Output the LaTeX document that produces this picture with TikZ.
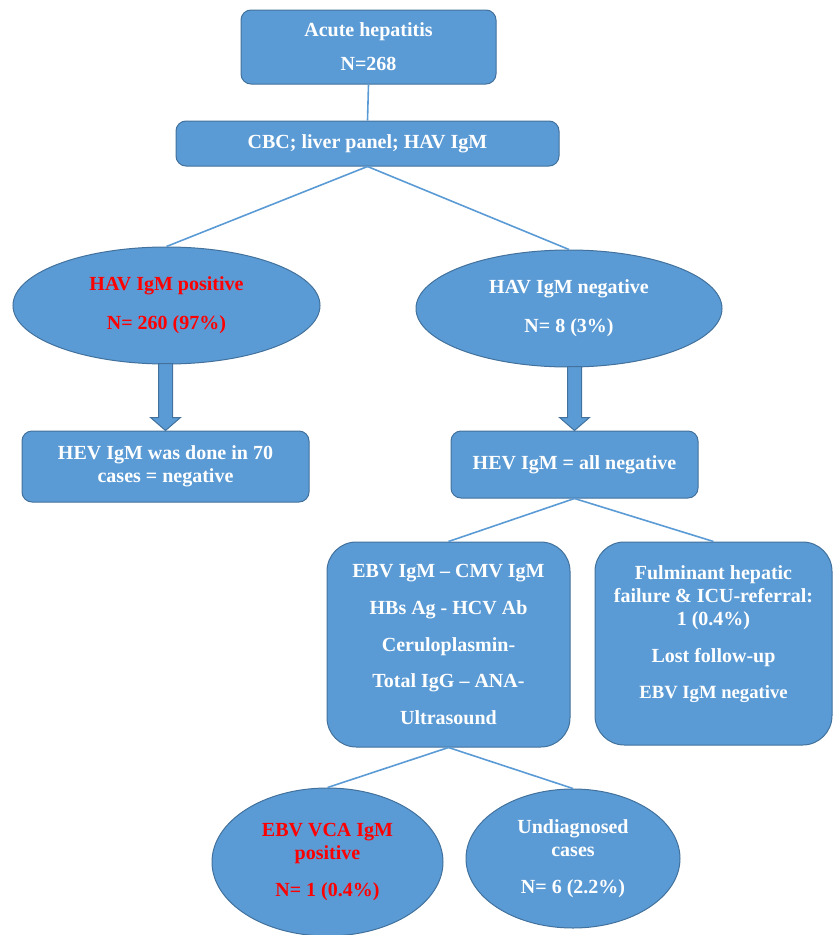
\documentclass[tikz,border=0pt]{standalone}
\usepackage{fontspec}
\setmainfont{Liberation Serif}
\usetikzlibrary{shapes.geometric, calc}

\definecolor{boxblue}{HTML}{5B9BD5}
\definecolor{boxedge}{HTML}{41719C}
\definecolor{posred}{HTML}{FF0000}

\tikzset{
    flowbox/.style={rectangle, rounded corners=7.5pt, fill=boxblue, draw=boxedge, line width=0.75pt,
        text=white, font=\fontsize{15}{17.25}\selectfont\bfseries, align=center, inner sep=2pt},
    flowoval/.style={ellipse, fill=boxblue, draw=boxedge, line width=0.75pt,
        text=white, font=\fontsize{15}{17.25}\selectfont\bfseries, align=center, inner sep=0pt},
    link/.style={draw=boxblue, line width=1.2pt},
    blockarrow/.style={fill=boxblue, draw=boxedge, line width=0.75pt, line join=miter}
}

\begin{document}
\begin{tikzpicture}[x=0.75pt, y=-0.75pt]
        \useasboundingbox (0, 0) rectangle (833, 935);

        % top of the tree
        \node[flowbox, minimum width=191.25pt, minimum height=55.5pt] (acute) at (368.5, 47) {Acute hepatitis\\[8.25pt]N=268};
        \node[flowbox, minimum width=287.25pt, minimum height=33.75pt] (cbc) at (367.5, 143.5) {CBC; liver panel; HAV IgM};

        \node[flowoval, text=posred, minimum width=230.25pt, minimum height=87.75pt] (hpos) at (166.5, 305.5) {HAV IgM positive\\[11.75pt]N= 260 (97\%)};
        \node[flowoval, minimum width=229.5pt, minimum height=87.75pt] (hneg) at (569, 308.5) {HAV IgM negative\\[11.75pt]N= 8 (3\%)};

        \node[flowbox, minimum width=215.25pt, minimum height=53.25pt] (hevleft) at (165.5, 466.5) {HEV IgM was done in 70\\cases = negative};
        \node[flowbox, minimum width=185.25pt, minimum height=50.25pt] (hevright) at (574.5, 464.5) {HEV IgM = all negative};

        % second level
        \node[flowbox, rounded corners=22pt, minimum width=182.25pt, minimum height=153.75pt] (tests) at (448.5, 644.5) {EBV IgM -- CMV IgM\\[10.2pt]HBs Ag - HCV Ab\\[10.2pt]Ceruloplasmin-\\[10.2pt]Total IgG -- ANA-\\[10.2pt]Ultrasound};
        \node[flowbox, rounded corners=22pt, minimum width=177.75pt, minimum height=152.25pt] (fulminant) at (713.5, 643.5) {Fulminant hepatic\\failure \& ICU-referral:\\1 (0.4\%)\\[10.5pt]Lost follow-up\\[10pt]{\fontsize{14}{17}\selectfont EBV IgM negative}\\\mbox{}};

        \node[flowoval, text=posred, minimum width=173.25pt, minimum height=111pt] (ebvpos) at (327.5, 862) {EBV VCA IgM\\positive\\[10.5pt]N= 1 (0.4\%)};
        \node[flowoval, minimum width=160.5pt, minimum height=104.25pt] (undiag) at (573, 858.5) {Undiagnosed\\cases\\[10.5pt]N= 6 (2.2\%)};

        % connectors
        \draw[link] (acute.south) -- (cbc.north);
        \draw[link] (cbc.south) -- (hpos.north);
        \draw[link] (cbc.south) -- (hneg.north);
        \draw[link] (hevright.south) -- (tests.north);
        \draw[link] (hevright.south) -- (fulminant.north);
        \draw[link] (tests.south) -- (ebvpos.north);
        \draw[link] (tests.south) -- (undiag.north);

        \foreach \src/\dst in {hpos/hevleft, hneg/hevright}
            \draw[blockarrow] ($(\src.south -| \dst.north)+(-7,-1)$) -- ($(\dst.north)+(-7,-13)$) -- ($(\dst.north)+(-15,-13)$)
                -- (\dst.north) -- ($(\dst.north)+(15,-13)$) -- ($(\dst.north)+(7,-13)$) -- ($(\src.south -| \dst.north)+(7,-1)$) -- cycle;
    \end{tikzpicture}
\end{document}
